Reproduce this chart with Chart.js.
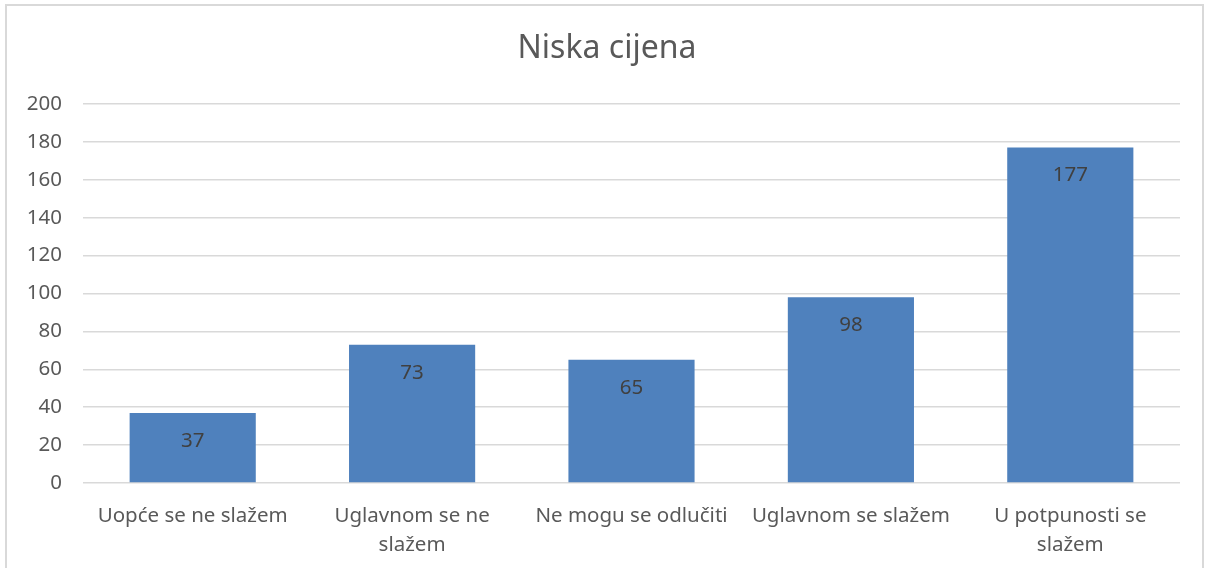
<!DOCTYPE html>
<html>
<head>
<meta charset="utf-8">
<script src="https://cdn.jsdelivr.net/npm/chart.js@4"></script>
<style>
  html, body { margin: 0; padding: 0; background: #fff; overflow: hidden; }
  #frame {
    position: absolute; left: 5px; top: 4px; width: 1199px; height: 600px;
    border: 2px solid #d9d9d9; box-sizing: border-box;
  }
  #wrap { position: absolute; left: 0; top: 0; width: 1206px; height: 568px; }
</style>
</head>
<body>
<div id="frame"></div>
<div id="wrap"><canvas id="cijenaChart" width="1206" height="568"></canvas></div>
<script>
const categories = [
    "Uopće se ne slažem",
    ["Uglavnom se ne", "slažem"],
    "Ne mogu se odlučiti",
    "Uglavnom se slažem",
    ["U potpunosti se", "slažem"]
];
const answers = [37, 73, 65, 98, 177];
const yTicks = [0, 20, 40, 60, 80, 100, 120, 140, 160, 180, 200];

const FONT = "'Noto Sans', sans-serif";

// value written just inside the top of each bar
const barValues = {
    id: "barValues",
    afterDatasetsDraw(chart) {
        const ctx = chart.ctx;
        const meta = chart.getDatasetMeta(0);
        ctx.save();
        ctx.font = "20.5px " + FONT;
        ctx.fillStyle = "#404040";
        ctx.textAlign = "center";
        ctx.textBaseline = "middle";
        meta.data.forEach((bar, i) => {
            ctx.fillText(answers[i], bar.x, bar.y + 28);
        });
        ctx.restore();
    }
};

const ctx = document.querySelector("#cijenaChart").getContext("2d");

new Chart(ctx, {
    type: "bar",
    data: {
        labels: categories,
        datasets: [
            {
                label: "Niska cijena",
                data: answers,
                backgroundColor: "#4f81bd",
                borderWidth: 0,
                categoryPercentage: 1,
                barPercentage: 0.575
            }
        ]
    },
    options: {
        responsive: false,
        animation: false,
        layout: { padding: { left: 8, right: 0, top: 0, bottom: 0 } },
        plugins: {
            legend: { display: false },
            tooltip: { enabled: false },
            title: {
                display: true,
                text: "Niska cijena",
                color: "#595959",
                font: { family: FONT, size: 32, weight: "normal", lineHeight: 1.2 },
                padding: { top: 30, bottom: 35.6 }
            }
        },
        scales: {
            x: {
                grid: { display: false, drawTicks: false },
                border: { display: false },
                ticks: {
                    color: "#595959",
                    font: { family: FONT, size: 20.5, lineHeight: 1.45 },
                    padding: 18,
                    maxRotation: 0,
                    autoSkip: false
                },
                afterFit(scale) { scale.height = 85; }
            },
            y: {
                min: 0,
                max: 200,
                afterBuildTicks(scale) {
                    scale.ticks = yTicks.map(v => ({ value: v }));
                },
                grid: { color: "#d9d9d9", lineWidth: 1.5, drawTicks: false },
                border: { display: false },
                ticks: {
                    color: "#595959",
                    font: { family: FONT, size: 20.5 },
                    padding: 21
                },
                afterFit(scale) { scale.width = 75; }
            },
            // empty right margin beside the plot
            yRight: {
                position: "right",
                min: 0,
                max: 200,
                grid: { display: false },
                border: { display: false },
                ticks: { display: false },
                afterFit(scale) { scale.width = 26; }
            }
        }
    },
    plugins: [barValues]
});
</script>
</body>
</html>
